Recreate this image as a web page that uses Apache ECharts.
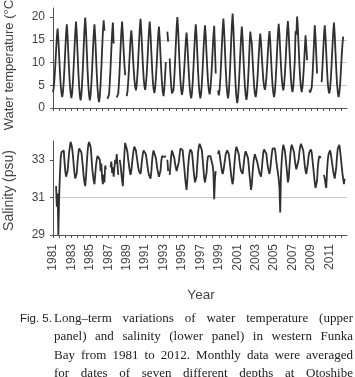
<!DOCTYPE html>
<html lang="en">
<head>
<meta charset="UTF-8">
<title>Funka Bay water temperature and salinity</title>
<script src="https://cdn.jsdelivr.net/npm/echarts@6/dist/echarts.min.js"></script>
<style>
  body { margin: 0; background: #fff; }
  #chart { position: absolute; left: 0; top: 0; width: 355px; height: 377px; }
  #fig { position: absolute; left: 20px; top: 309px; font: 11.5px "Liberation Sans", Arial, sans-serif; color: #222; line-height: 18.3px; }
  #caption { position: absolute; left: 54px; top: 309px; width: 299px; font: 13px "Liberation Serif", "Times New Roman", serif; color: #222; }
  #caption div { height: 18.3px; line-height: 18.3px; text-align: justify; text-align-last: justify; white-space: nowrap; }
</style>
</head>
<body>
<div id="chart"></div>
<div id="fig">Fig. 5.</div>
<div id="caption">
  <div>Long–term variations of water temperature (upper</div>
  <div>panel) and salinity (lower panel) in western Funka</div>
  <div>Bay from 1981 to 2012. Monthly data were averaged</div>
  <div>for dates of seven different depths at Otoshibe</div>
</div>
<script>
// years on the axis, 12 monthly values each
const years = ['1981', '1982', '1983', '1984', '1985', '1986', '1987', '1988',
  '1989', '1990', '1991', '1992', '1993', '1994', '1995', '1996',
  '1997', '1998', '1999', '2000', '2001', '2002', '2003', '2004',
  '2005', '2006', '2007', '2008', '2009', '2010', '2011', '2012'];

// water temperature (deg C), Jan..Dec per row
const temperature = [
  3.5, 4.5, 6.6, 9.4, 12.6, 15.5, 17.5, 15.1, 11.5, 8.0, 5.1, 3.3,      // 1981
  2.4, 3.5, 5.9, 9.1, 12.8, 16.2, 18.4, 15.8, 11.9, 8.2, 5.1, 3.2,      // 1982
  2.2, 3.4, 5.9, 9.3, 13.1, 16.6, 19.0, 16.2, 12.1, 8.1, 4.8, 2.7,      // 1983
  1.7, 3.0, 5.7, 9.3, 13.5, 17.4, 19.9, 17.0, 12.6, 8.4, 5.0, 2.8,      // 1984
  1.7, 2.9, 5.4, 8.7, 12.6, 16.1, 18.4, 15.7, 11.6, 7.6, 4.4, 2.3,      // 1985
  1.3, 2.6, 5.3, 8.9, 13.0, 16.8, 19.3, 17.0, null, null, null, 2.0,    // 1986
  1.8, 3.0, 5.5, 9.0, 12.9, 16.4, 18.8, 14.2, null, null, null, 2.3,    // 1987
  2.0, 3.2, 5.7, 9.1, 13.1, 16.6, 19.0, 16.2, 12.8, 9.6, 7.2, null,     // 1988
  2.6, 3.6, 5.8, 8.7, 12.0, 15.1, 17.1, 15.0, 11.8, 8.8, 6.3, 4.7,      // 1989
  3.9, 5.0, 7.4, 10.5, 14.1, 17.4, 19.6, 17.1, 13.4, 9.8, 6.8, 4.9,     // 1990
  4.0, 5.1, 7.3, 10.3, 13.8, 16.9, 19.0, 16.5, 12.7, 9.1, 6.1, 4.2,     // 1991
  3.3, 4.3, 6.5, 9.4, 12.8, 15.9, 17.9, 15.5, 11.8, 8.3, 5.4, 3.5,      // 1992
  2.6, 4.2, 7.0, 10.1, null, 16.8, 14.6, null, 10.9, 7.4, 4.8, 3.2,     // 1993
  2.8, 4.0, 6.6, 10.0, 14.0, 17.6, 20.0, 17.3, 13.2, 9.2, 6.0, 3.9,     // 1994
  2.9, 3.9, 5.9, 8.7, 11.8, 14.7, 16.6, 14.3, 10.8, 7.5, 4.7, 3.0,      // 1995
  2.1, 3.2, 5.7, 8.9, 12.7, 16.1, 18.4, 15.8, 11.9, 8.1, 5.0, 3.1,      // 1996
  2.1, 3.2, 5.6, 8.9, 12.6, 15.9, 18.2, 15.8, 12.1, 8.6, 5.7, 3.9,      // 1997
  3.0, 4.1, 6.3, 9.3, 12.8, 16.0, 18.1, 13.0, 7.6, null, null, 3.9,     // 1998
  2.8, 4.0, 6.5, 9.9, 13.8, 17.3, 19.7, 16.9, 12.7, 8.6, 5.3, 3.2,      // 1999
  2.1, 3.4, 6.2, 10.0, 14.3, 18.2, 20.8, 17.6, 12.9, 8.4, 4.6, 2.3,     // 2000
  1.1, 2.3, 4.8, 8.2, 12.0, 15.5, 17.9, 15.3, 11.5, 7.8, 4.7, 2.8,      // 2001
  1.8, 3.0, 5.6, 9.2, 13.4, 16.8, 15.3, 14.2, 10.8, 7.6, 4.8, 3.1,      // 2002
  2.4, 3.4, 5.5, 8.3, 11.5, 14.4, 16.4, 14.4, 11.4, 8.6, 6.2, 4.7,      // 2003
  4.0, 4.9, 6.8, 9.4, 12.4, 15.1, 16.9, 14.6, 11.1, 7.8, 5.0, 3.3,      // 2004
  2.4, 3.5, 5.9, 9.2, 12.9, 16.2, 18.5, 16.2, 12.7, 9.3, 6.5, 4.8,      // 2005
  3.9, 5.0, 7.2, 10.3, 13.8, 17.0, 19.1, 16.6, 12.9, 9.3, 6.3, 4.4,     // 2006
  3.5, 4.7, 7.2, 10.5, 16.9, 16.2, 20.1, 17.5, 13.5, 9.6, 6.5, 4.5,     // 2007
  3.5, 4.6, 6.8, 9.6, 12.9, 16.0, 13.5, 10.5, null, null, 4.0, 3.4,     // 2008
  3.2, 4.5, 7.0, 10.4, 14.4, 18.2, 15.6, 11.6, 7.6, null, null, null,   // 2009
  null, null, 5.7, 9.0, 12.6, 15.9, 18.2, 15.7, 12.0, 8.4, 5.4, 3.8,    // 2010
  3.2, 4.3, 6.6, 9.8, 13.3, 16.6, 18.8, 16.2, 12.2, 8.5, 5.4, 3.4,      // 2011
  2.4, 3.3, 5.2, 8.0, 11.2, 13.8, 15.7, null, null, null, null, null    // 2012
];

// salinity (psu), Jan..Dec per row
const salinity = [
  null, null, null, null, 31.6, 30.5, 31.2, 29.0, 31.0, 32.2, 33.1, 33.4,     // 1981
  33.5, 33.3, 33.5, 32.9, 32.4, 32.1, 32.0, 32.4, 32.9, 33.4, 33.7, 33.95,    // 1982
  33.8, 33.6, 33.2, 32.7, 32.3, 32.0, 31.9, 32.3, 32.9, 33.3, 33.6, 33.65,    // 1983
  33.6, 33.4, 33.0, 32.6, 32.1, 31.8, 31.6, 32.1, 32.8, 33.4, 33.8, 33.95,    // 1984
  33.9, 33.7, 33.2, 32.6, 32.2, 31.9, 31.7, 32.2, 32.7, 33.0, 33.2, 33.3,     // 1985
  33.3, 33.0, 32.4, 32.8, 32.0, 31.7, 32.2, 31.8, 32.7, 32.5, null, null,     // 1986
  null, null, null, 32.6, 32.9, 32.3, 32.6, 32.1, 32.6, 33.0, 32.8, 33.3,     // 1987
  33.3, 32.2, null, 33.0, 32.7, 32.3, 31.9, 31.6, 32.5, 33.3, 33.9, 34.0,     // 1988
  33.6, 33.4, 33.0, 32.7, 32.4, 32.2, 32.4, 32.8, 33.2, 33.5, 33.7, 33.7,     // 1989
  33.5, 33.2, 32.9, 32.6, 32.4, 32.3, 32.25, 32.6, 33.0, 33.3, 33.5, 33.55,   // 1990
  33.5, 33.3, 33.0, 32.7, 32.4, 32.2, 32.1, 32.0, 32.3, 32.9, 33.3, 33.5,     // 1991
  33.55, 33.5, 33.1, 32.8, 32.5, 32.3, 32.1, 32.0, 32.4, 32.9, 33.2, 33.2,    // 1992
  33.2, 33.15, 33.2, 33.2, null, 33.0, 32.4, null, 32.2, 32.7, 33.2, 33.5,    // 1993
  33.55, 33.4, 33.1, 32.8, 32.6, 32.4, 32.35, 32.5, 32.9, 33.3, 33.6, 33.7,   // 1994
  33.7, 33.5, 33.0, 32.6, 32.1, 31.7, 31.4, 31.9, 32.6, 33.1, 33.4, 33.55,    // 1995
  33.55, 33.4, 33.0, 32.5, 32.1, 31.8, 31.7, 32.1, 32.8, 33.4, 33.7, 33.85,   // 1996
  33.8, 33.85, 33.5, 33.0, 32.5, 32.0, 31.8, 31.7, 32.3, 32.9, 33.2, 33.3,    // 1997
  33.3, 33.2, 33.1, 33.2, 32.7, 32.3, 30.9, 32.0, 32.4, null, null, 33.3,     // 1998
  33.5, 33.3, 33.0, 32.7, 32.4, 32.25, 32.4, 32.7, 33.0, 33.3, 33.4, 33.5,    // 1999
  33.5, 33.3, 33.0, 32.6, 32.2, 31.9, 31.7, 32.0, 32.6, 33.1, 33.5, 33.7,     // 2000
  33.7, 33.6, 33.3, 32.9, 32.6, 32.4, 32.3, 32.25, 32.6, 33.0, 33.3, 33.45,   // 2001
  33.45, 33.4, 33.1, 32.7, 32.2, 31.8, 31.4, 31.7, 32.3, 32.8, 33.1, 33.3,    // 2002
  33.3, 33.2, 32.9, 32.8, 32.5, 32.3, 32.2, 32.1, 32.5, 33.0, 33.4, 33.55,    // 2003
  33.5, 33.55, 33.3, 32.9, 32.6, 32.4, 32.25, 32.5, 32.9, 33.3, 33.6, 33.7,   // 2004
  33.7, 33.6, 33.3, 32.9, 32.6, 32.3, 32.0, 31.5, 30.2, 32.2, 33.0, 33.5,     // 2005
  33.8, 33.8, 33.5, 33.1, 32.7, 32.3, 31.8, 32.0, 32.6, 33.2, 33.6, 33.8,     // 2006
  33.8, 33.7, 33.4, 33.0, 32.7, 32.5, 32.4, 32.6, 33.0, 33.4, 33.7, 33.85,    // 2007
  33.85, 33.8, 33.5, 33.1, 32.7, 32.4, 32.25, 32.3, 32.8, 33.2, 33.4, 33.5,   // 2008
  33.55, 33.4, 33.0, 32.6, 32.2, 31.8, 31.5, 31.4, 31.9, 32.6, 33.0, 33.2,    // 2009
  33.2, 33.1, null, null, null, 32.2, 32.0, 31.7, 31.5, 32.4, 33.0, 33.3,     // 2010
  33.4, 33.5, 33.3, 33.0, 32.7, 32.4, 32.2, 32.0, 31.9, 32.6, 33.2, 33.6,     // 2011
  33.7, 33.8, 33.5, 33.1, 32.7, 32.3, 32.0, 31.7, 32.0, null, null, null      // 2012
];

const tempTicks = [0, 5, 10, 15, 20];
const salTicks = [29, 31, 33];

// one category per month
const months = [];
years.forEach(y => {
  for (let m = 1; m <= 12; m++) months.push(y + '-' + (m < 10 ? '0' + m : m));
});

const chart = echarts.init(document.getElementById('chart'));
const sans = '"Liberation Sans", Arial, sans-serif';
const axisCol = '#555';
const textCol = '#444';
const gridCol = '#c8c8c8';

function xAxisFor(grid, labels) {
  return {
    gridIndex: grid,
    type: 'category',
    data: months,
    boundaryGap: false,
    axisLine: { lineStyle: { color: axisCol, width: 1 } },
    axisTick: { interval: 7, length: 3, lineStyle: { color: axisCol } },
    axisLabel: labels ? {
      interval: 23, rotate: 90, margin: 9,
      fontFamily: sans, fontSize: 12, color: textCol,
      formatter: v => v.slice(0, 4)
    } : { show: false },
    splitLine: { show: false }
  };
}

function yAxisFor(grid, min, max, step, ticks) {
  return {
    gridIndex: grid,
    type: 'value',
    min: min, max: max, interval: step,
    axisLine: { show: true, lineStyle: { color: axisCol } },
    axisTick: { show: true, length: 3, customValues: ticks, lineStyle: { color: axisCol } },
    axisLabel: { customValues: ticks, margin: 8, fontFamily: sans, fontSize: 12, color: textCol },
    splitLine: { show: true, showMinLine: false, showMaxLine: false, lineStyle: { color: gridCol, width: 1 } }
  };
}

const lineStyle = { color: '#303030', width: 1.8 };

chart.setOption({
  animation: false,
  grid: [
    { left: 53, right: 8, top: 8, height: 100 },
    { left: 53, right: 8, top: 141, height: 94 }
  ],
  xAxis: [xAxisFor(0, false), xAxisFor(1, true)],
  yAxis: [yAxisFor(0, 0, 22, 5, tempTicks), yAxisFor(1, 29, 34, 2, salTicks)],
  series: [
    { type: 'line', xAxisIndex: 0, yAxisIndex: 0, data: temperature, symbol: 'none', connectNulls: false, lineStyle: lineStyle },
    { type: 'line', xAxisIndex: 1, yAxisIndex: 1, data: salinity, symbol: 'none', connectNulls: false, lineStyle: lineStyle }
  ],
  graphic: [
    { type: 'text', x: 9, y: 63, rotation: Math.PI / 2,
      style: { text: 'Water temperature (°C)', fontFamily: sans, fontSize: 13, fill: textCol, align: 'center', verticalAlign: 'middle' } },
    { type: 'text', x: 9, y: 190.5, rotation: Math.PI / 2,
      style: { text: 'Salinity (psu)', fontFamily: sans, fontSize: 14, fill: textCol, align: 'center', verticalAlign: 'middle' } },
    { type: 'text', x: 201, y: 295,
      style: { text: 'Year', fontFamily: sans, fontSize: 13.5, fill: textCol, align: 'center', verticalAlign: 'middle' } }
  ]
});
</script>
</body>
</html>
